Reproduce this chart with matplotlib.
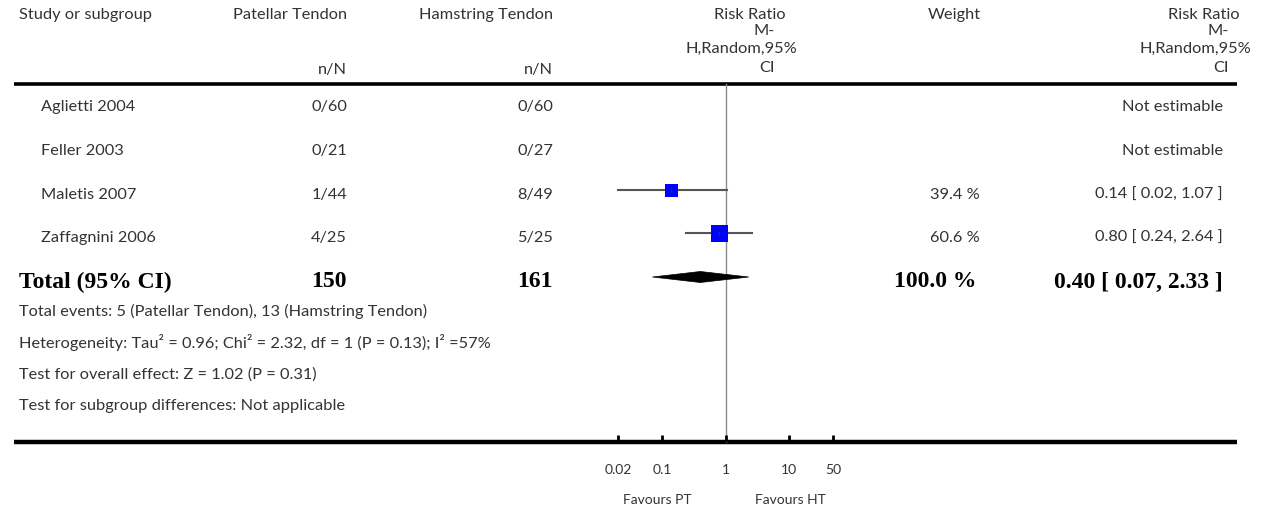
import matplotlib
matplotlib.use("Agg")
import matplotlib.pyplot as plt
from matplotlib.patches import Polygon

# ---- data ----
studies = ["Aglietti 2004", "Feller 2003", "Maletis 2007", "Zaffagnini 2006"]
pt_nN = ["0/60", "0/21", "1/44", "4/25"]
ht_nN = ["0/60", "0/27", "8/49", "5/25"]
rr = [None, None, 0.14, 0.80]
lo = [None, None, 0.02, 0.24]
hi = [None, None, 1.07, 2.64]
weights = ["", "", "39.4 %", "60.6 %"]
rr_text = ["Not estimable", "Not estimable", "0.14 [ 0.02, 1.07 ]", "0.80 [ 0.24, 2.64 ]"]
marker_px = [0, 0, 13, 17]
total_label = "Total (95% CI)"
total_pt, total_ht = "150", "161"
total_rr, total_lo, total_hi = 0.40, 0.07, 2.33
total_weight = "100.0 %"
total_text = "0.40 [ 0.07, 2.33 ]"
footer = [
    "Total events: 5 (Patellar Tendon), 13 (Hamstring Tendon)",
    "Heterogeneity: Tau² = 0.96; Chi² = 2.32, df = 1 (P = 0.13); I² =57%",
    "Test for overall effect: Z = 1.02 (P = 0.31)",
    "Test for subgroup differences: Not applicable",
]
ticks = [0.02, 0.1, 1, 10, 50]
tick_labels = ["0.02", "0.1", "1", "10", "50"]
favours = [("Favours PT", 0.083), ("Favours HT", 10.8)]

W, H = 1264, 510
fig = plt.figure(figsize=(W / 100, H / 100), dpi=100)
ax = fig.add_axes([0, 0, 1, 1])
ax.set_xlim(0, W)
ax.set_ylim(H, 0)
ax.axis("off")

SANS = dict(family=["Lato", "DejaVu Sans"], fontweight="normal", fontsize=11.8, color="#333333")
SMALL = dict(SANS, fontsize=10)
BOLD = dict(family="Liberation Serif", fontweight="bold", fontsize=17, color="black")

# headers
ax.text(19, 15, "Study or subgroup", ha="left", va="center", **SANS)
ax.text(347, 15, "Patellar Tendon", ha="right", va="center", **SANS)
ax.text(347, 70, "n/N", ha="right", va="center", **SANS)
ax.text(553, 15, "Hamstring Tendon", ha="right", va="center", **SANS)
ax.text(553, 70, "n/N", ha="right", va="center", **SANS)
ax.text(981, 15, "Weight", ha="right", va="center", **SANS)
for rx in (797, 1251):
    ax.text(rx - 11, 15, "Risk Ratio", ha="right", va="center", **SANS)
    ax.text(rx - 22, 31, "M-", ha="right", va="center", **SANS)
    ax.text(rx, 49, "H,Random,95%", ha="right", va="center", **SANS)
    ax.text(rx - 22, 68, "CI", ha="right", va="center", **SANS)

# rules
ax.plot([14, 1237], [85, 85], color="black", lw=2.6, solid_capstyle="butt")
ax.plot([14, 1237], [443, 443], color="black", lw=3.2, solid_capstyle="butt")

row_y = [107, 151, 195, 238]
for i, y in enumerate(row_y):
    ax.text(41, y, studies[i], ha="left", va="center", **SANS)
    ax.text(347, y, pt_nN[i], ha="right", va="center", **SANS)
    ax.text(553, y, ht_nN[i], ha="right", va="center", **SANS)
    if weights[i]:
        ax.text(980, y, weights[i], ha="right", va="center", **SANS)
    ax.text(1223, y, rr_text[i], ha="right", va="center", **SANS)

ty = 282
ax.text(19, ty, total_label, ha="left", va="center", **BOLD)
ax.text(347, ty, total_pt, ha="right", va="center", **BOLD)
ax.text(553, ty, total_ht, ha="right", va="center", **BOLD)
ax.text(977, ty, total_weight, ha="right", va="center", **BOLD)
ax.text(1223, ty, total_text, ha="right", va="center", **BOLD)

for j, t in enumerate(footer):
    ax.text(19, 311 + j * 31.7, t, ha="left", va="center", **SANS)

# forest axes (log scale)
fax = fig.add_axes([599 / W, 0, 253 / W, 1])
fax.set_xscale("log")
fax.set_xlim(0.01, 100)
fax.set_ylim(H, 0)
fax.axis("off")
fax.patch.set_alpha(0)

fax.plot([1, 1], [85, 443], color="#8a8a8a", lw=1.0, zorder=1)
for i, y in enumerate(row_y):
    if rr[i] is None:
        continue
    fax.plot([lo[i], hi[i]], [y - 4, y - 4], color="#555555", lw=1.5, zorder=2)
    fax.plot([rr[i]], [y - 4], marker="s", ms=marker_px[i] * 0.72,
             mfc="#0000ff", mec="#0000ff", mew=0, zorder=3)
    fax.plot([rr[i]], [y - 4], marker="|", ms=3, color="#333333", mew=1, zorder=4)

dy = 278
diamond = Polygon([[total_lo, dy], [total_rr, dy - 5.5], [total_hi, dy], [total_rr, dy + 5.5]],
                  closed=True, facecolor="black", edgecolor="black", lw=0.5, zorder=3)
fax.add_patch(diamond)

fax.vlines(ticks, 436, 443, color="black", lw=2)
for t, lab in zip(ticks, tick_labels):
    fax.text(t, 470, lab, ha="center", va="center", **SMALL)
for lab, xv in favours:
    fax.text(xv, 500, lab, ha="center", va="center", **SMALL)

fig.savefig("out.png", dpi=100, facecolor="white")
